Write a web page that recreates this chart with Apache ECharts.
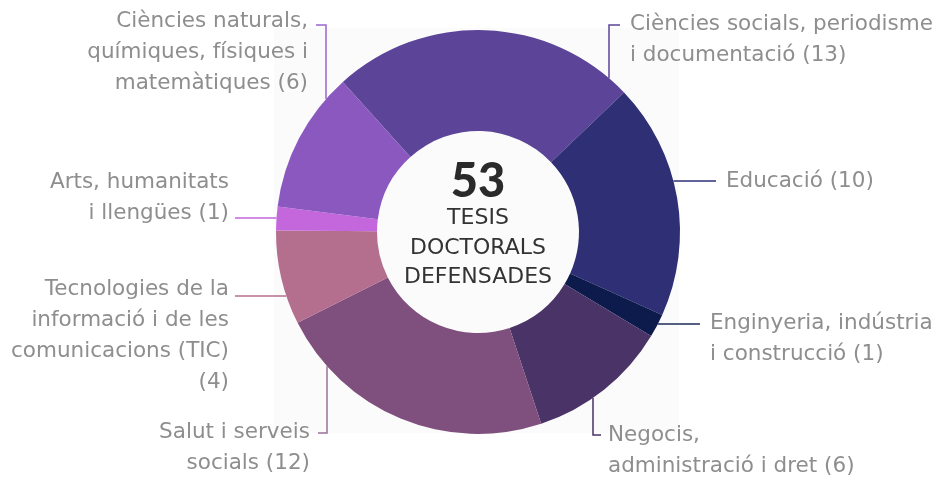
<!DOCTYPE html>
<html>
<head>
<meta charset="utf-8">
<script src="https://cdn.jsdelivr.net/npm/echarts@6/dist/echarts.min.js"></script>
<style>
  html, body { margin: 0; padding: 0; background: #fff; }
  #chart { width: 940px; height: 481px; }
</style>
</head>
<body>
<div id="chart"></div>
<script>
// data, clockwise from the upper-left
const categories = [
  'Ciències socials, periodisme\ni documentació',
  'Educació',
  'Enginyeria, indústria\ni construcció',
  'Negocis,\nadministració i dret',
  'Salut i serveis\nsocials',
  'Tecnologies de la\ninformació i de les\ncomunicacions (TIC)\n',
  'Arts, humanitats\ni llengües',
  'Ciències naturals,\nquímiques, físiques i\nmatemàtiques'
]
const values = [13, 10, 1, 6, 12, 4, 1, 6]
const colors = ['#5c4499', '#2e2f74', '#0d1b4c', '#4a3366', '#7f4f7e', '#b46e8e', '#c466dc', '#8b58bf']
const lineColors = ['#5c4499', '#2e2f74', '#1d2b58', '#4a3366', '#9a739a', '#b46e8e', '#c466dc', '#9a66d0']
const total = values.reduce((a, b) => a + b, 0)

const CX = 478, CY = 232, R_IN = 101, R_OUT = 202

// label placement: 'h' = straight horizontal guide, 'v' = vertical then horizontal
const guides = [
  { type: 'v', lineX: 609, elbowY: 25, endX: 620, textX: 630, textY: 40, align: 'left', side: -1 },
  { type: 'h', lineY: 181, endX: 716, textX: 726, textY: 181, align: 'left' },
  { type: 'h', lineY: 324, endX: 700, textX: 710, textY: 339, align: 'left' },
  { type: 'v', lineX: 593, elbowY: 435, endX: 601, textX: 608, textY: 451, align: 'left', side: 1 },
  { type: 'v', lineX: 327, elbowY: 433, endX: 318, textX: 310, textY: 448, align: 'right', side: 1 },
  { type: 'h', lineY: 296, endX: 235, textX: 229, textY: 336, align: 'right' },
  { type: 'h', lineY: 218, endX: 235, textX: 229, textY: 198, align: 'right' },
  { type: 'v', lineX: 326, elbowY: 25, endX: 316, textX: 308, textY: 52, align: 'right', side: -1 }
]

const chart = echarts.init(document.getElementById('chart'))

const seriesData = categories.map((name, i) => ({
  name: name,
  value: values[i],
  itemStyle: { color: colors[i] },
  labelLine: { lineStyle: { color: lineColors[i], width: 1.5 } }
}))

const centerFont = '22px "DejaVu Sans"'

const option = {
  animation: false,
  graphic: [
    { type: 'rect', z: 0, shape: { x: 274, y: 28, width: 405, height: 405 }, style: { fill: '#fbfbfb' } },
    { type: 'text', z: 10, style: { text: String(total), x: CX, y: 182, align: 'center', verticalAlign: 'middle',
        font: '900 47px Lato', fill: '#2a2a2a' } },
    { type: 'text', z: 10, style: { text: 'TESIS', x: CX, y: 218, align: 'center', verticalAlign: 'middle',
        font: centerFont, fill: '#333' } },
    { type: 'text', z: 10, style: { text: 'DOCTORALS', x: CX, y: 248, align: 'center', verticalAlign: 'middle',
        font: centerFont, fill: '#333' } },
    { type: 'text', z: 10, style: { text: 'DEFENSADES', x: CX, y: 277, align: 'center', verticalAlign: 'middle',
        font: centerFont, fill: '#333' } }
  ],
  series: [
    {
      type: 'pie',
      center: [CX, CY],
      radius: [R_IN, R_OUT],
      startAngle: 132,
      clockwise: true,
      silent: true,
      data: seriesData,
      label: {
        show: true,
        position: 'outside',
        formatter: (p) => p.name + (p.name.endsWith('\n') ? '' : ' ') + '(' + p.value + ')',
        fontFamily: 'DejaVu Sans',
        fontSize: 21.5,
        lineHeight: 31,
        color: '#8e8e8e'
      },
      labelLine: { show: true, length: 10, length2: 10 },
      labelLayout: function (params) {
        const g = guides[params.dataIndex]
        let pts
        if (g.type === 'h') {
          const dx = Math.sqrt(R_OUT * R_OUT - (g.lineY - CY) * (g.lineY - CY))
          const x0 = g.endX > CX ? CX + dx : CX - dx
          pts = [[x0, g.lineY], [(x0 + g.endX) / 2, g.lineY], [g.endX, g.lineY]]
        } else {
          const dy = Math.sqrt(R_OUT * R_OUT - (g.lineX - CX) * (g.lineX - CX))
          const y0 = CY + g.side * dy
          pts = [[g.lineX, y0], [g.lineX, g.elbowY], [g.endX, g.elbowY]]
        }
        return {
          x: g.textX,
          y: g.textY,
          align: g.align,
          verticalAlign: 'middle',
          labelLinePoints: pts
        }
      }
    }
  ]
}

chart.setOption(option)
</script>
</body>
</html>
